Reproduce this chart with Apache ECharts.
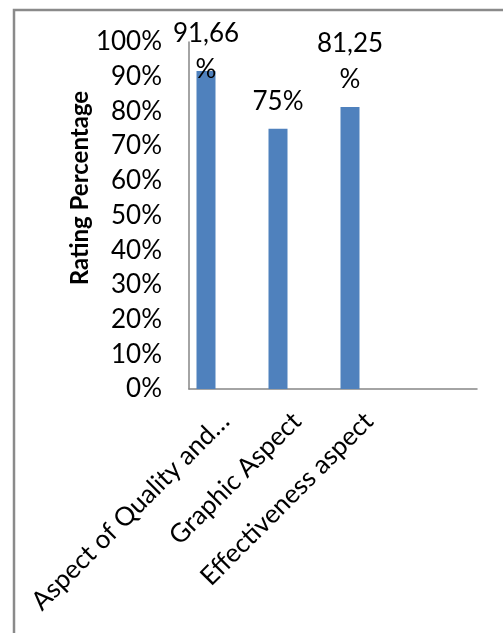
<!DOCTYPE html>
<html>
<head>
<meta charset="utf-8">
<script src="https://cdn.jsdelivr.net/npm/echarts@6/dist/echarts.min.js"></script>
<style>
  html, body { margin: 0; padding: 0; background: #fff; }
  #chart { width: 503px; height: 633px; }
</style>
</head>
<body>
<div id="chart"></div>
<script>
// Categories on the x axis (fourth slot is left empty)
const categories = ['Aspect of Quality and…', 'Graphic Aspect', 'Effectiveness aspect', ''];
// Rating percentages per aspect
const ratings = [91.66, 75, 81.25, null];
// Placeholder series that share the category slots
const series2 = [null, null, null, null];
const series3 = [null, null, null, null];
// Y axis ticks
const yTicks = [0, 10, 20, 30, 40, 50, 60, 70, 80, 90, 100];

const FONT = 'Lato, "Liberation Sans", sans-serif';
const FS = 26;

function pctLabel(v) {
  if (Number.isInteger(v)) return v + '%';
  return String(v).replace('.', ',') + '\n%';
}

const chart = echarts.init(document.getElementById('chart'), null, { renderer: 'canvas' });

chart.setOption({
  animation: false,
  backgroundColor: '#fff',
  grid: { left: 189, right: 26, top: 42, bottom: 244, containLabel: false },
  xAxis: {
    type: 'category',
    data: categories,
    axisLine: { show: true, lineStyle: { color: '#868686', width: 1.5 } },
    axisTick: { show: false },
    axisLabel: {
      rotate: 45,
      interval: 0,
      margin: 28,
      color: '#000',
      fontFamily: FONT,
      fontSize: FS
    }
  },
  yAxis: {
    type: 'value',
    min: yTicks[0],
    max: yTicks[yTicks.length - 1],
    interval: 10,
    splitLine: { show: false },
    axisLine: { show: true, lineStyle: { color: '#868686', width: 1.5 } },
    axisTick: { show: false },
    axisLabel: {
      margin: 27,
      color: '#000',
      fontFamily: FONT,
      fontSize: FS,
      formatter: v => v + '%'
    }
  },
  series: [
    {
      name: 'Series 1',
      type: 'bar',
      barWidth: 19,
      barGap: '0%',
      itemStyle: { color: '#4F81BD' },
      label: {
        show: true,
        position: 'top',
        distance: 9,
        color: '#000',
        fontFamily: FONT,
        fontSize: FS,
        lineHeight: 36,
        formatter: p => pctLabel(p.value)
      },
      data: ratings.map((v, i) => i === 0
        ? { value: v, label: { offset: [0, 26] } }
        : v)
    },
    { name: 'Series 2', type: 'bar', barWidth: 19, barGap: '0%', data: series2 },
    { name: 'Series 3', type: 'bar', barWidth: 19, barGap: '0%', data: series3 }
  ],
  graphic: [
    {
      type: 'rect',
      shape: { x: 14, y: 10, width: 700, height: 800 },
      style: { fill: 'none', stroke: '#8a8a8a', lineWidth: 2.5 },
      silent: true
    },
    {
      type: 'text',
      x: 80,
      y: 188,
      rotation: Math.PI / 2,
      style: {
        text: 'Rating Percentage',
        fontFamily: FONT,
        fontSize: 24,
        fontWeight: 'bold',
        fill: '#000',
        textAlign: 'center',
        textVerticalAlign: 'middle'
      }
    }
  ]
});
</script>
</body>
</html>
